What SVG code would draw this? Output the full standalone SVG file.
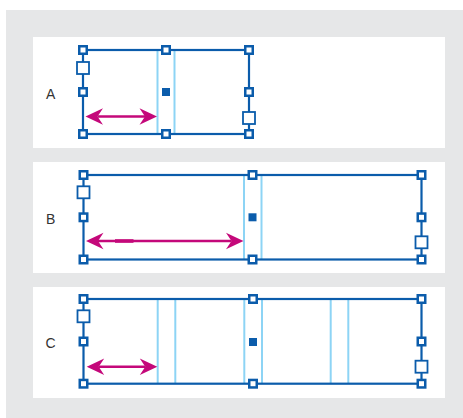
<svg xmlns="http://www.w3.org/2000/svg" width="463" height="418" viewBox="0 0 463 418">
<style>
.bg{fill:#e6e7e8}
.panel{fill:#ffffff}
.frame{fill:none;stroke:#0b5cab;stroke-width:2.2}
.guide{stroke:#8dd4f5;stroke-width:2;fill:none}
.h{fill:#ffffff;stroke:#0b5cab;stroke-width:2.5}
.big{fill:#ffffff;stroke:#0b5cab;stroke-width:1.8}
.c{fill:#0b5cab}
.lbl{font-family:"Liberation Sans",Arial,sans-serif;font-size:14px;fill:#333333}
.arr{stroke:#c4087a;stroke-width:2.5;fill:none;marker-start:url(#ah);marker-end:url(#ah)}
</style>
<defs>
<marker id="ah" markerUnits="userSpaceOnUse" viewBox="-6 -9 19 18" markerWidth="19" markerHeight="18" refX="0" refY="0" orient="auto-start-reverse">
<path d="M12,0 L-5.5,-8.3 L0,0 L-5.5,8.3 Z" fill="#c4087a"/>
</marker>
<rect id="hs" x="-3.75" y="-3.75" width="7.5" height="7.5" class="h"/>
<rect id="hb" x="-6" y="-6" width="12" height="12" class="big"/>
<rect id="hc" x="-4" y="-4" width="8" height="8" class="c"/>
</defs>
<rect class="bg" x="6" y="10" width="457" height="408"/>

<g id="panelA">
<rect class="panel" x="33" y="37" width="412" height="111"/>
<text class="lbl" x="46" y="99">A</text>
<line class="guide" x1="157.5" y1="50" x2="157.5" y2="134"/>
<line class="guide" x1="174.5" y1="50" x2="174.5" y2="134"/>
<rect class="frame" x="83" y="50" width="166" height="84"/>
<use href="#hs" x="83" y="50"/><use href="#hs" x="166" y="50"/><use href="#hs" x="249" y="50"/>
<use href="#hs" x="83" y="92"/><use href="#hs" x="249" y="92"/>
<use href="#hs" x="83" y="134"/><use href="#hs" x="166" y="134"/><use href="#hs" x="249" y="134"/>
<use href="#hb" x="83" y="68"/><use href="#hb" x="249" y="118"/>
<use href="#hc" x="166" y="92"/>
</g>

<g id="panelB">
<rect class="panel" x="33" y="162" width="412" height="111"/>
<text class="lbl" x="46" y="223.5">B</text>
<line class="guide" x1="244" y1="175" x2="244" y2="259.5"/>
<line class="guide" x1="261.5" y1="175" x2="261.5" y2="259.5"/>
<rect class="frame" x="83.5" y="175" width="338" height="84.5"/>
<use href="#hs" x="83.5" y="175"/><use href="#hs" x="252.5" y="175"/><use href="#hs" x="421.5" y="175"/>
<use href="#hs" x="83.5" y="217.3"/><use href="#hs" x="421.5" y="217.3"/>
<use href="#hs" x="83.5" y="259.5"/><use href="#hs" x="252.5" y="259.5"/><use href="#hs" x="421.5" y="259.5"/>
<use href="#hb" x="83.5" y="192.3"/><use href="#hb" x="421.5" y="242.3"/>
<use href="#hc" x="252.5" y="217.3"/>
</g>

<g id="panelC">
<rect class="panel" x="33" y="287" width="412" height="111"/>
<text class="lbl" x="45.5" y="348">C</text>
<line class="guide" x1="157.7" y1="299" x2="157.7" y2="383.7"/>
<line class="guide" x1="175.3" y1="299" x2="175.3" y2="383.7"/>
<line class="guide" x1="244.3" y1="299" x2="244.3" y2="383.7"/>
<line class="guide" x1="262" y1="299" x2="262" y2="383.7"/>
<line class="guide" x1="330.7" y1="299" x2="330.7" y2="383.7"/>
<line class="guide" x1="348.3" y1="299" x2="348.3" y2="383.7"/>
<rect class="frame" x="83.5" y="299" width="338" height="84.7"/>
<use href="#hs" x="83.5" y="299"/><use href="#hs" x="253" y="299"/><use href="#hs" x="421.5" y="299"/>
<use href="#hs" x="83.5" y="341.5"/><use href="#hs" x="421.5" y="341.5"/>
<use href="#hs" x="83.5" y="383.7"/><use href="#hs" x="253" y="383.7"/><use href="#hs" x="421.5" y="383.7"/>
<use href="#hb" x="83.5" y="316.3"/><use href="#hb" x="421.5" y="366.7"/>
<use href="#hc" x="253" y="342"/>
</g>

<g id="connectors">
<line class="arr" x1="97.5" y1="116.5" x2="145" y2="116.5"/>
<line class="arr" x1="98" y1="241" x2="231.5" y2="241"/>
<line x1="115" y1="241" x2="133.5" y2="241" stroke="#c4087a" stroke-width="3.6"/>
<line class="arr" x1="98.7" y1="366.7" x2="145.3" y2="366.7"/>
</g>
</svg>
